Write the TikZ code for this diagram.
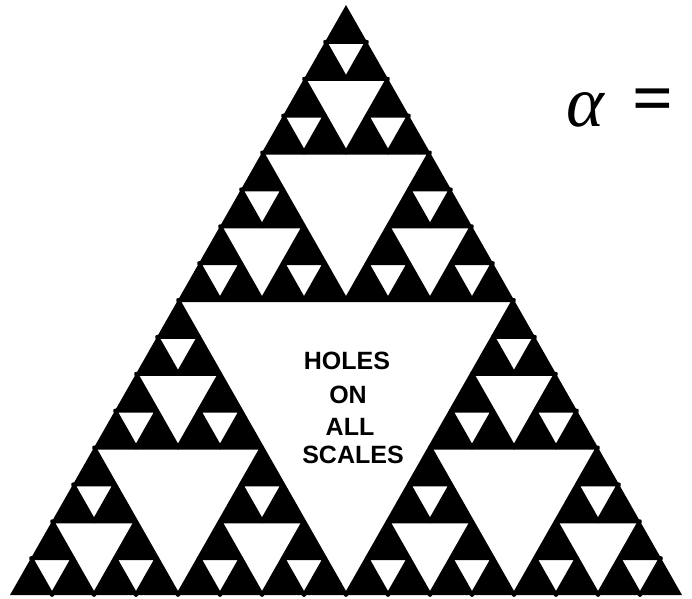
\documentclass[tikz,border=0pt]{standalone}
\usepackage{fontspec}
\newfontfamily\letterfont{Liberation Sans}
\newfontfamily\serifit{Liberation Serif}
\def\holepath{\fill[white]}
\newcommand\sierp[5]{% #1 depth, #2 apex x, #3 apex y, #4 width, #5 height
  \ifnum#1>0
  \begingroup
    \pgfmathsetmacro\hw{#4/2}\pgfmathsetmacro\hh{#5/2}%
    \pgfmathsetmacro\ql{#2-#4/4}\pgfmathsetmacro\qr{#2+#4/4}%
    \pgfmathsetmacro\my{#3+#5/2}\pgfmathsetmacro\by{#3+#5}%
    \holepath (\ql,\my) -- (\qr,\my) -- (#2,\by) -- cycle;
    \pgfmathtruncatemacro\dd{#1-1}%
    \edef\next{\noexpand\sierp{\dd}{#2}{#3}{\hw}{\hh}%
      \noexpand\sierp{\dd}{\ql}{\my}{\hw}{\hh}%
      \noexpand\sierp{\dd}{\qr}{\my}{\hw}{\hh}}%
    \next
  \endgroup
  \fi}
\tikzset{
  lbl/.style={anchor=base, inner sep=0pt, font=\letterfont\bfseries\fontsize{25}{25}\selectfont},
  mathbig/.style={inner sep=0pt, font=\serifit\fontsize{72}{72}\selectfont}
}
\begin{document}
\begin{tikzpicture}[x=1pt,y=-1pt]
\useasboundingbox (0,0) rectangle (692,598);
\fill[white] (0,0) rectangle (692,598);
% outer triangle
\fill[black] (346,5) -- (682,595) -- (10,595) -- cycle;
% holes: pass 1 fill
\sierp{4}{346}{5}{672}{590}
% holes: pass 2 outline thickening
\def\holepath{\draw[black,line width=4pt,line join=round]}
\sierp{4}{346}{5}{672}{590}
% text
\node[lbl] (t1) at (347,369) {HOLES};
\node[lbl] (t2) at (348,403) {ON};
\node[lbl] (t3) at (350,435) {ALL};
\node[lbl] (t4) at (353,463) {SCALES};
\node[mathbig, anchor=base west] (alpha) at (566,126) {\itshape α};
\node[mathbig] (eq) at (653,106) {\bfseries =};
\end{tikzpicture}
\end{document}
